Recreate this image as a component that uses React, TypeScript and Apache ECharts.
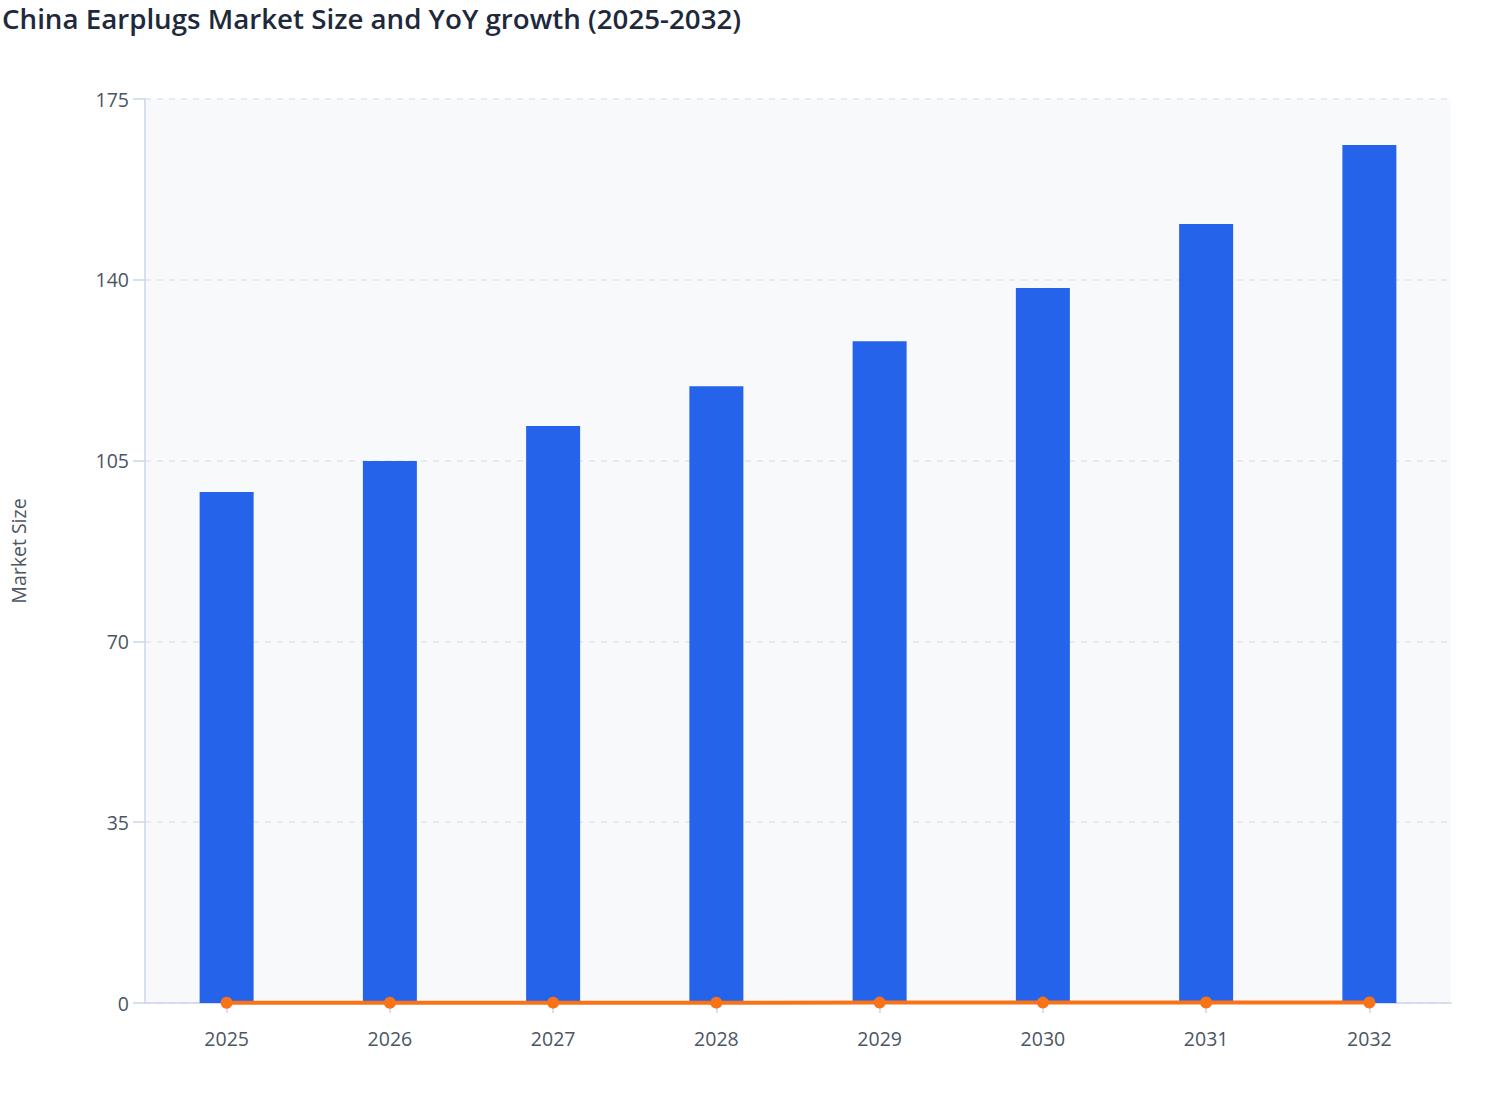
import React, { useEffect, useRef } from "react";
import * as echarts from "echarts";

const years = ["2025", "2026", "2027", "2028", "2029", "2030", "2031", "2032"];
const marketSize = [98.9, 104.9, 111.7, 119.4, 128.1, 138.4, 150.8, 166.1];
const yoyGrowth = [0.058, 0.061, 0.065, 0.069, 0.073, 0.08, 0.09, 0.101];
const yTicks = { min: 0, max: 175, interval: 35 };

const FONT = "'Open Sans', 'Noto Sans', sans-serif";

export default function App() {
  const ref = useRef<HTMLDivElement>(null);
  useEffect(() => {
    if (!ref.current) return;
    const chart = echarts.init(ref.current, null, { renderer: "svg" });
    chart.setOption({
      animation: false,
      backgroundColor: "#ffffff",
      textStyle: { fontFamily: FONT },
      title: {
        text: "China Earplugs Market Size and YoY growth (2025-2032)",
        left: 2,
        top: 4,
        padding: 0,
        textStyle: { fontFamily: FONT, fontSize: 27.7, fontWeight: 600, color: "#1e293b" },
      },
      grid: {
        left: 143,
        right: 57,
        top: 99,
        bottom: 117,
        show: true,
        backgroundColor: "#f8f9fb",
        borderWidth: 0,
      },
      xAxis: {
        type: "category",
        data: years,
        axisLine: { lineStyle: { color: "#cbd5ef", width: 1.5 } },
        axisTick: { show: true, alignWithLabel: true, length: 10, lineStyle: { color: "#cbd5ef", width: 1.5 } },
        axisLabel: { color: "#4b5563", fontSize: 19.5, margin: 25, fontFamily: FONT },
      },
      yAxis: {
        type: "value",
        min: yTicks.min,
        max: yTicks.max,
        interval: yTicks.interval,
        name: "Market Size",
        nameLocation: "middle",
        nameGap: 117,
        nameTextStyle: { color: "#4b5563", fontSize: 19.5, fontFamily: FONT },
        axisLine: { show: true, lineStyle: { color: "#cbd5ef", width: 1.5 } },
        axisTick: { show: true, length: 12, lineStyle: { color: "#cbd5ef", width: 1.5 } },
        axisLabel: { color: "#4b5563", fontSize: 19.5, margin: 16, fontFamily: FONT },
        splitLine: { show: true, lineStyle: { color: "#e2e5eb", type: [6, 6], width: 1.5 } },
      },
      series: [
        {
          name: "Market Size",
          type: "bar",
          data: marketSize,
          barWidth: 54,
          itemStyle: { color: "#2563eb" },
        },
        {
          name: "YoY growth",
          type: "line",
          data: yoyGrowth,
          symbol: "circle",
          symbolSize: 12,
          lineStyle: { color: "#f97316", width: 4 },
          itemStyle: { color: "#f97316" },
          z: 5,
        },
      ],
    });
    return () => chart.dispose();
  }, []);
  return (
    <div
      ref={ref}
      style={{ position: "fixed", left: 0, top: 0, width: 1508, height: 1120 }}
    />
  );
}
